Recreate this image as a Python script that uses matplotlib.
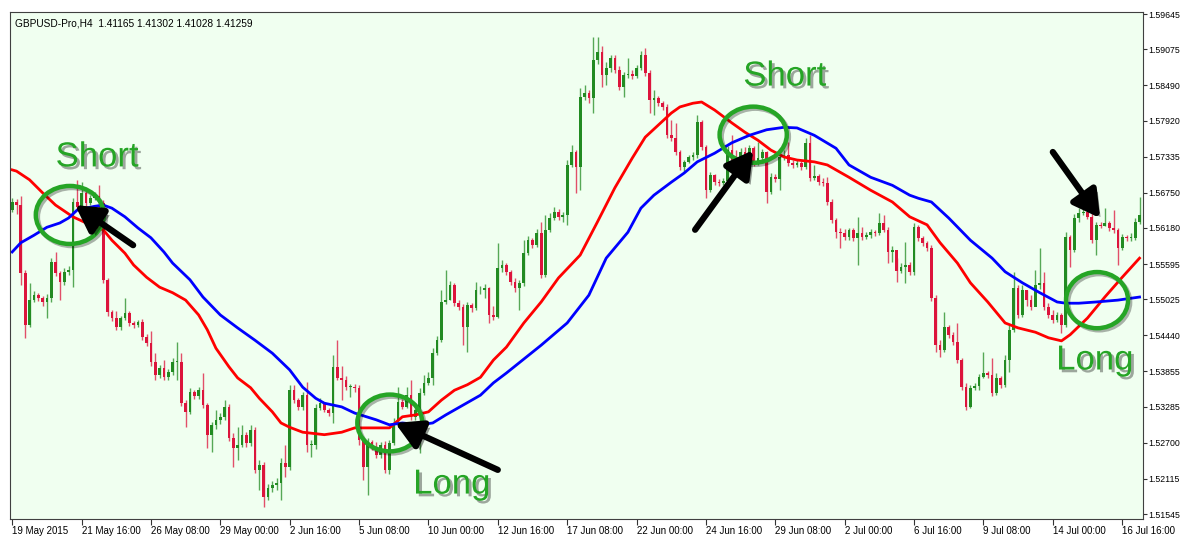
import numpy as np
import matplotlib
matplotlib.use("Agg")
import matplotlib.pyplot as plt
import matplotlib.patheffects as pe
from matplotlib.patches import Ellipse

# GBPUSD H4 candles (bar 0 = 19 May 2015 00:00)
closes = [
    1.5660, 1.5655, 1.5545, 1.5461, 1.5501, 1.5509, 1.5504, 1.5498, 1.5504, 1.5563,
    1.5545, 1.5530, 1.5547, 1.5550, 1.5660, 1.5652, 1.5675, 1.5658, 1.5666, 1.5670,
    1.5658, 1.5534, 1.5482, 1.5472, 1.5457, 1.5472, 1.5480, 1.5464, 1.5461, 1.5466,
    1.5441, 1.5432, 1.5401, 1.5380, 1.5391, 1.5376, 1.5385, 1.5401, 1.5401, 1.5334,
    1.5320, 1.5352, 1.5346, 1.5355, 1.5331, 1.5282, 1.5299, 1.5307, 1.5312, 1.5328,
    1.5278, 1.5261, 1.5266, 1.5282, 1.5270, 1.5291, 1.5226, 1.5234, 1.5182, 1.5197,
    1.5201, 1.5205, 1.5237, 1.5231, 1.5355, 1.5339, 1.5328, 1.5347, 1.5266, 1.5266,
    1.5326, 1.5334, 1.5323, 1.5318, 1.5393, 1.5375, 1.5372, 1.5360, 1.5360, 1.5359,
    1.5274, 1.5231, 1.5271, 1.5263, 1.5250, 1.5266, 1.5226, 1.5270, 1.5302, 1.5336,
    1.5328, 1.5347, 1.5312, 1.5323, 1.5350, 1.5367, 1.5375, 1.5415, 1.5436, 1.5498,
    1.5501, 1.5525, 1.5496, 1.5490, 1.5457, 1.5493, 1.5488, 1.5517, 1.5517, 1.5521,
    1.5477, 1.5474, 1.5553, 1.5558, 1.5547, 1.5530, 1.5521, 1.5529, 1.5577, 1.5598,
    1.5590, 1.5610, 1.5542, 1.5615, 1.5634, 1.5644, 1.5636, 1.5639, 1.5720, 1.5741,
    1.5717, 1.5830, 1.5837, 1.5828, 1.5890, 1.5903, 1.5866, 1.5877, 1.5893, 1.5874,
    1.5846, 1.5866, 1.5867, 1.5864, 1.5877, 1.5898, 1.5869, 1.5825, 1.5828, 1.5820,
    1.5814, 1.5768, 1.5764, 1.5741, 1.5717, 1.5725, 1.5733, 1.5736, 1.5790, 1.5749,
    1.5679, 1.5704, 1.5692, 1.5691, 1.5694, 1.5744, 1.5728, 1.5723, 1.5741, 1.5733,
    1.5747, 1.5723, 1.5731, 1.5741, 1.5676, 1.5700, 1.5697, 1.5733, 1.5736, 1.5723,
    1.5720, 1.5723, 1.5717, 1.5755, 1.5699, 1.5702, 1.5692, 1.5691, 1.5660, 1.5631,
    1.5611, 1.5610, 1.5603, 1.5615, 1.5602, 1.5610, 1.5603, 1.5606, 1.5611, 1.5610,
    1.5626, 1.5615, 1.5579, 1.5582, 1.5548, 1.5555, 1.5558, 1.5547, 1.5619, 1.5602,
    1.5594, 1.5585, 1.5504, 1.5428, 1.5420, 1.5457, 1.5444, 1.5433, 1.5404, 1.5360,
    1.5328, 1.5359, 1.5362, 1.5376, 1.5383, 1.5380, 1.5350, 1.5375, 1.5363, 1.5404,
    1.5453, 1.5521, 1.5477, 1.5517, 1.5501, 1.5490, 1.5525, 1.5529, 1.5490, 1.5477,
    1.5469, 1.5477, 1.5461, 1.5603, 1.5582, 1.5634, 1.5642, 1.5644, 1.5636, 1.5598,
    1.5623, 1.5621, 1.5626, 1.5618, 1.5615, 1.5585, 1.5603, 1.5602, 1.5602, 1.5628,
    1.5639,
]
highs = [
    1.5666, 1.5665, 1.5670, 1.5550, 1.5529, 1.5516, 1.5512, 1.5508, 1.5511, 1.5569,
    1.5579, 1.5548, 1.5553, 1.5556, 1.5666, 1.5696, 1.5692, 1.5679, 1.5671, 1.5676,
    1.5688, 1.5663, 1.5537, 1.5485, 1.5483, 1.5475, 1.5504, 1.5483, 1.5467, 1.5469,
    1.5470, 1.5446, 1.5451, 1.5415, 1.5396, 1.5404, 1.5389, 1.5407, 1.5433, 1.5415,
    1.5339, 1.5359, 1.5355, 1.5360, 1.5383, 1.5334, 1.5304, 1.5323, 1.5318, 1.5339,
    1.5333, 1.5285, 1.5295, 1.5299, 1.5287, 1.5299, 1.5295, 1.5242, 1.5239, 1.5203,
    1.5208, 1.5213, 1.5245, 1.5266, 1.5363, 1.5363, 1.5342, 1.5352, 1.5368, 1.5274,
    1.5333, 1.5342, 1.5336, 1.5326, 1.5412, 1.5436, 1.5394, 1.5378, 1.5365, 1.5365,
    1.5363, 1.5279, 1.5278, 1.5274, 1.5271, 1.5271, 1.5273, 1.5274, 1.5310, 1.5360,
    1.5341, 1.5360, 1.5372, 1.5331, 1.5359, 1.5380, 1.5385, 1.5423, 1.5443, 1.5517,
    1.5550, 1.5532, 1.5529, 1.5501, 1.5495, 1.5498, 1.5496, 1.5530, 1.5524, 1.5527,
    1.5522, 1.5491, 1.5594, 1.5566, 1.5561, 1.5550, 1.5537, 1.5534, 1.5598, 1.5605,
    1.5602, 1.5616, 1.5628, 1.5639, 1.5642, 1.5652, 1.5649, 1.5644, 1.5728, 1.5752,
    1.5744, 1.5845, 1.5850, 1.5841, 1.5927, 1.5927, 1.5913, 1.5887, 1.5898, 1.5898,
    1.5880, 1.5871, 1.5893, 1.5874, 1.5882, 1.5905, 1.5909, 1.5874, 1.5841, 1.5832,
    1.5824, 1.5819, 1.5793, 1.5788, 1.5744, 1.5728, 1.5736, 1.5741, 1.5801, 1.5793,
    1.5752, 1.5709, 1.5705, 1.5697, 1.5699, 1.5751, 1.5768, 1.5744, 1.5747, 1.5749,
    1.5752, 1.5751, 1.5757, 1.5746, 1.5743, 1.5707, 1.5705, 1.5739, 1.5744, 1.5757,
    1.5728, 1.5728, 1.5726, 1.5764, 1.5768, 1.5720, 1.5705, 1.5699, 1.5700, 1.5665,
    1.5634, 1.5618, 1.5616, 1.5618, 1.5618, 1.5636, 1.5619, 1.5611, 1.5616, 1.5615,
    1.5642, 1.5639, 1.5619, 1.5589, 1.5569, 1.5561, 1.5595, 1.5563, 1.5626, 1.5623,
    1.5605, 1.5597, 1.5590, 1.5509, 1.5436, 1.5482, 1.5461, 1.5449, 1.5464, 1.5407,
    1.5367, 1.5363, 1.5367, 1.5381, 1.5417, 1.5386, 1.5407, 1.5383, 1.5378, 1.5412,
    1.5461, 1.5547, 1.5525, 1.5525, 1.5517, 1.5509, 1.5550, 1.5585, 1.5547, 1.5496,
    1.5485, 1.5482, 1.5480, 1.5611, 1.5606, 1.5640, 1.5650, 1.5652, 1.5671, 1.5642,
    1.5628, 1.5628, 1.5650, 1.5629, 1.5647, 1.5618, 1.5608, 1.5606, 1.5610, 1.5634,
    1.5668,
]
lows = [
    1.5644, 1.5640, 1.5525, 1.5440, 1.5457, 1.5498, 1.5500, 1.5491, 1.5472, 1.5498,
    1.5540, 1.5501, 1.5525, 1.5542, 1.5522, 1.5649, 1.5650, 1.5654, 1.5655, 1.5663,
    1.5628, 1.5529, 1.5475, 1.5467, 1.5453, 1.5453, 1.5469, 1.5459, 1.5456, 1.5457,
    1.5436, 1.5427, 1.5394, 1.5372, 1.5375, 1.5372, 1.5372, 1.5380, 1.5372, 1.5330,
    1.5295, 1.5316, 1.5341, 1.5341, 1.5326, 1.5261, 1.5255, 1.5292, 1.5300, 1.5307,
    1.5273, 1.5231, 1.5242, 1.5263, 1.5263, 1.5265, 1.5221, 1.5193, 1.5166, 1.5177,
    1.5190, 1.5193, 1.5177, 1.5214, 1.5226, 1.5334, 1.5323, 1.5323, 1.5255, 1.5247,
    1.5260, 1.5323, 1.5320, 1.5313, 1.5302, 1.5372, 1.5339, 1.5355, 1.5344, 1.5352,
    1.5266, 1.5210, 1.5185, 1.5258, 1.5245, 1.5245, 1.5221, 1.5219, 1.5266, 1.5299,
    1.5325, 1.5326, 1.5307, 1.5307, 1.5253, 1.5347, 1.5363, 1.5363, 1.5412, 1.5433,
    1.5495, 1.5501, 1.5491, 1.5485, 1.5428, 1.5417, 1.5482, 1.5485, 1.5511, 1.5504,
    1.5464, 1.5469, 1.5472, 1.5547, 1.5542, 1.5525, 1.5514, 1.5485, 1.5524, 1.5574,
    1.5585, 1.5587, 1.5537, 1.5538, 1.5611, 1.5631, 1.5631, 1.5628, 1.5623, 1.5717,
    1.5675, 1.5679, 1.5825, 1.5820, 1.5804, 1.5884, 1.5846, 1.5850, 1.5871, 1.5869,
    1.5841, 1.5830, 1.5861, 1.5859, 1.5861, 1.5874, 1.5864, 1.5804, 1.5801, 1.5815,
    1.5809, 1.5764, 1.5759, 1.5736, 1.5712, 1.5709, 1.5723, 1.5728, 1.5731, 1.5744,
    1.5666, 1.5676, 1.5688, 1.5686, 1.5688, 1.5689, 1.5723, 1.5718, 1.5720, 1.5728,
    1.5728, 1.5718, 1.5720, 1.5728, 1.5658, 1.5673, 1.5692, 1.5679, 1.5728, 1.5718,
    1.5715, 1.5717, 1.5712, 1.5713, 1.5694, 1.5696, 1.5688, 1.5686, 1.5655, 1.5626,
    1.5602, 1.5585, 1.5598, 1.5598, 1.5597, 1.5558, 1.5598, 1.5600, 1.5602, 1.5605,
    1.5606, 1.5611, 1.5561, 1.5563, 1.5530, 1.5545, 1.5529, 1.5542, 1.5542, 1.5597,
    1.5589, 1.5581, 1.5500, 1.5417, 1.5409, 1.5417, 1.5440, 1.5428, 1.5399, 1.5355,
    1.5323, 1.5326, 1.5355, 1.5355, 1.5375, 1.5375, 1.5346, 1.5347, 1.5359, 1.5360,
    1.5385, 1.5449, 1.5472, 1.5474, 1.5491, 1.5485, 1.5493, 1.5519, 1.5485, 1.5472,
    1.5464, 1.5466, 1.5448, 1.5457, 1.5555, 1.5579, 1.5628, 1.5639, 1.5632, 1.5594,
    1.5574, 1.5618, 1.5621, 1.5613, 1.5610, 1.5558, 1.5582, 1.5597, 1.5597, 1.5598,
    1.5624,
]
first_open = 1.5647
# forex bars open where the previous one closed
opens = [first_open] + closes[:-1]

# moving averages, read at a set of bars
red_ma_bars = [0, 1, 4, 7, 10, 14, 18, 21, 23, 26, 28, 31, 34, 37, 40, 43, 45, 47, 50, 52,
               55, 57, 60, 62, 64, 67, 72, 76, 79, 87, 90, 93, 96, 99, 102, 105, 108, 111, 114, 118,
               122, 126, 131, 135, 139, 143, 146, 152, 154, 157, 159, 162, 166, 169, 172, 175, 178, 181, 185, 188,
               190, 193, 198, 203, 207, 211, 214, 218, 221, 225, 229, 232, 236, 239, 242, 244, 248, 252, 256, 260]
red_ma = [1.5712, 1.5710, 1.5696, 1.5675, 1.5655, 1.5636, 1.5623, 1.5615, 1.5598, 1.5577,
          1.5558, 1.5538, 1.5522, 1.5513, 1.5501, 1.5477, 1.5453, 1.5423, 1.5393, 1.5375,
          1.5359, 1.5342, 1.5320, 1.5302, 1.5295, 1.5287, 1.5283, 1.5287, 1.5294, 1.5294,
          1.5312, 1.5315, 1.5320, 1.5339, 1.5355, 1.5364, 1.5376, 1.5404, 1.5425, 1.5464,
          1.5498, 1.5537, 1.5574, 1.5628, 1.5683, 1.5731, 1.5765, 1.5804, 1.5814, 1.5820,
          1.5822, 1.5809, 1.5788, 1.5773, 1.5760, 1.5744, 1.5733, 1.5728, 1.5725, 1.5720,
          1.5712, 1.5700, 1.5679, 1.5660, 1.5636, 1.5623, 1.5594, 1.5561, 1.5529, 1.5498,
          1.5464, 1.5456, 1.5449, 1.5440, 1.5435, 1.5445, 1.5472, 1.5506, 1.5538, 1.5569]
blue_ma_bars = [0, 2, 5, 8, 11, 13, 15, 19, 21, 23, 26, 29, 32, 35, 37, 41, 44, 48, 52, 56,
                60, 64, 67, 70, 72, 76, 79, 84, 87, 90, 94, 97, 100, 104, 108, 111, 114, 122, 128, 133,
                137, 142, 145, 148, 152, 155, 158, 162, 166, 170, 174, 178, 181, 185, 190, 193, 198, 203, 207, 209,
                212, 216, 221, 226, 229, 233, 237, 241, 243, 246, 250, 255, 260]
blue_ma = [1.5579, 1.5594, 1.5606, 1.5619, 1.5626, 1.5634, 1.5647, 1.5653, 1.5655, 1.5650,
           1.5636, 1.5618, 1.5602, 1.5579, 1.5561, 1.5534, 1.5506, 1.5477, 1.5456, 1.5436,
           1.5415, 1.5388, 1.5360, 1.5342, 1.5334, 1.5328, 1.5318, 1.5307, 1.5299, 1.5302,
           1.5299, 1.5302, 1.5315, 1.5331, 1.5347, 1.5367, 1.5383, 1.5428, 1.5464, 1.5509,
           1.5569, 1.5611, 1.5650, 1.5671, 1.5692, 1.5707, 1.5725, 1.5739, 1.5756, 1.5768,
           1.5777, 1.5781, 1.5780, 1.5768, 1.5747, 1.5720, 1.5700, 1.5687, 1.5671, 1.5666,
           1.5660, 1.5634, 1.5598, 1.5569, 1.5547, 1.5529, 1.5513, 1.5498, 1.5496, 1.5496,
           1.5498, 1.5501, 1.5506]

date_ticks = list(range(0, 257, 16))
date_labels = ["19 May 2015", "21 May 16:00", "26 May 08:00", "29 May 00:00", "2 Jun 16:00",
               "5 Jun 08:00", "10 Jun 00:00", "12 Jun 16:00", "17 Jun 08:00", "22 Jun 00:00",
               "24 Jun 16:00", "29 Jun 08:00", "2 Jul 00:00", "6 Jul 16:00", "9 Jul 08:00",
               "14 Jul 00:00", "16 Jul 16:00"]
price_ticks = [1.59645, 1.59075, 1.58490, 1.57920, 1.57335, 1.56750, 1.56180, 1.55595,
               1.55025, 1.54440, 1.53855, 1.53285, 1.52700, 1.52115, 1.51545]

GREEN = "#228b22"
RED = "#dc143c"
NOTE = "#25a525"

fig = plt.figure(figsize=(11.82, 5.36), dpi=100)
ax = fig.add_axes([10 / 1182, 17 / 536, 1133 / 1182, 507 / 536])
ax.set_facecolor("#f0fff0")

x = np.arange(len(closes))
o = np.array(opens)
c = np.array(closes)
col = np.where(c >= o, GREEN, RED)
ax.vlines(x, lows, highs, colors=col, lw=1, alpha=0.75)
ax.bar(x, np.maximum(np.abs(c - o), 0.00012), bottom=np.minimum(o, c), width=0.62,
       color=col, linewidth=0)

ax.plot(red_ma_bars, red_ma, color="red", lw=2)
ax.plot(blue_ma_bars, blue_ma, color="blue", lw=2)

ax.set_xlim(-0.5, 260.8)
ax.set_ylim(1.51464, 1.59678)

ax.set_xticks(date_ticks)
ax.set_xticklabels(date_labels, ha="left", fontdict=dict(family="Liberation Sans", size=7))
ax.tick_params(axis="x", direction="out", length=4, pad=1, color="#333333")
ax.yaxis.tick_right()
ax.set_yticks(price_ticks)
ax.set_yticklabels([f"{v:.5f}" for v in price_ticks], fontdict=dict(family="Liberation Sans", size=6.3))
ax.tick_params(axis="y", direction="out", length=3, pad=1, color="#333333")
for s in ax.spines.values():
    s.set_color("#404040")

ax.text(0.004, 0.988, "GBPUSD-Pro,H4  1.41165 1.41302 1.41028 1.41259",
        transform=ax.transAxes, va="top", ha="left", family="Liberation Sans", fontsize=7.3)

# signal markers: circles, arrows and words
circles = [(13.3, 1.5639, 15.7, 0.0094), (87.1, 1.5302, 15.0, 0.0092),
           (170.9, 1.5769, 15.5, 0.0091), (250.2, 1.5501, 14.3, 0.0091)]
for cx, cy, w, h in circles:
    ax.add_patch(Ellipse((cx, cy), w, h, fill=False, edgecolor=NOTE, lw=3.2, zorder=5,
                         path_effects=[pe.SimpleLineShadow(offset=(1.5, -1.5), shadow_color="black",
                                                           alpha=0.3), pe.Normal()]))

arrows = [((27.9, 1.5590), (14.5, 1.5655)), ((112.0, 1.5226), (88.3, 1.5302)),
          ((157.5, 1.5615), (170.9, 1.5744)), ((240.0, 1.5741), (250.9, 1.5634))]
for tail, tip in arrows:
    ann = ax.annotate("", xy=tip, xytext=tail,
                      arrowprops=dict(arrowstyle="-|>,head_length=0.8,head_width=0.45",
                                      color="black", lw=4.5, mutation_scale=20,
                                      shrinkA=0, shrinkB=0), zorder=6)
    ann.arrow_patch.set_path_effects([pe.SimplePatchShadow(offset=(3, -3), alpha=0.4), pe.Normal()])

words = [("Short", 19.6, 1.5733), ("Long", 101.4, 1.5203), ("Short", 178.2, 1.5864), ("Long", 249.7, 1.5404)]
for w, wx, wy in words:
    ax.text(wx, wy, w, fontsize=25, color=NOTE, ha="center", va="center",
            family="Liberation Sans", zorder=7,
            path_effects=[pe.SimplePatchShadow(offset=(2, -2), shadow_rgbFace="black", alpha=0.35), pe.Normal()])

fig.savefig("out.png", dpi=100, facecolor="white")
